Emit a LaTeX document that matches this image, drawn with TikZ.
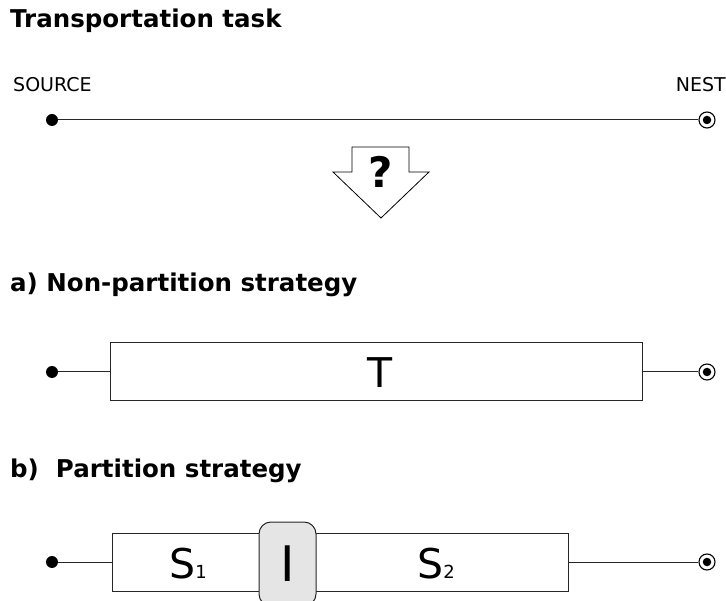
\documentclass[tikz,border=0pt]{standalone}
\usepackage{fontspec}
\setmainfont{DejaVu Sans}

\tikzset{
  heading/.style={anchor=base west,inner sep=0pt,font=\bfseries\fontsize{24.5}{24.5}\selectfont},
  endlabel/.style={inner sep=0pt,font=\fontsize{19}{19}\selectfont},
  wire/.style={draw=black!85,line width=1pt},
  srcdot/.style={circle,fill=black,inner sep=0pt,minimum size=12pt},
  nest/.style={circle,draw=black,line width=1.1pt,fill=white,inner sep=0pt,minimum size=16pt},
  nestdot/.style={circle,fill=black,inner sep=0pt,minimum size=8.5pt},
  taskbox/.style={draw=black!85,line width=1pt,fill=white,inner sep=0pt,minimum height=58pt},
  big/.style={inner sep=0pt,font=\fontsize{41}{41}\selectfont},
}
\newcommand{\sub}[1]{{\fontsize{18}{18}\selectfont #1}}

\begin{document}
\begin{tikzpicture}[x=1pt,y=-1pt]
  \useasboundingbox (0,0) rectangle (726,601);

  % task
  \node[heading] (h0) at (10,28) {Transportation task};
  \node[endlabel,anchor=base west] (lsrc) at (13,92) {SOURCE};
  \node[endlabel,anchor=base east] (lnest) at (726,92) {NEST};
  \node[srcdot] (s0) at (52,120) {};
  \node[nest] (n0) at (707,120) {};
  \node[nestdot] (d0) at (n0) {};
  \draw[wire] (s0) -- (n0);

  % question arrow
  \draw[line width=0.8pt,fill=white] (352,147) -- (409,147) -- (409,172) -- (429,172)
    -- (381,218) -- (333,172) -- (352,172) -- cycle;
  \node[inner sep=0pt,font=\bfseries\fontsize{42}{42}\selectfont] (q) at (381,172) {?};

  % a) one task
  \node[heading] (ha) at (10,292) {a) Non-partition strategy};
  \node[srcdot] (s1) at (52,372) {};
  \node[taskbox,minimum width=532pt] (T) at (376,372) {};
  \node[big] (tl) at (380,373) {T};
  \node[nest] (n1) at (707,372) {};
  \node[nestdot] (d1) at (n1) {};
  \draw[wire] (s1) -- (T);
  \draw[wire] (T) -- (n1);

  % b) two subtasks with interface
  \node[heading] (hb) at (10,478) {b)\ \ Partition strategy};
  \node[srcdot] (s2) at (52,562) {};
  \node[taskbox,minimum width=456pt] (S) at (340,562) {};
  \node[big,anchor=base] (s1l) at (188,578) {S\sub{1}};
  \node[big,anchor=base] (s2l) at (436,578) {S\sub{2}};
  \node[draw=black!85,line width=1pt,fill=black!10,rounded corners=12pt,inner sep=0pt,
    minimum width=57pt,minimum height=84pt] (I) at (287.5,564) {};
  \node[inner sep=0pt,font=\fontsize{49}{49}\selectfont] (il) at (I.center) {I};
  \node[nest] (n2) at (707,562) {};
  \node[nestdot] (d2) at (n2) {};
  \draw[wire] (s2) -- (S);
  \draw[wire] (S) -- (n2);
\end{tikzpicture}
\end{document}
